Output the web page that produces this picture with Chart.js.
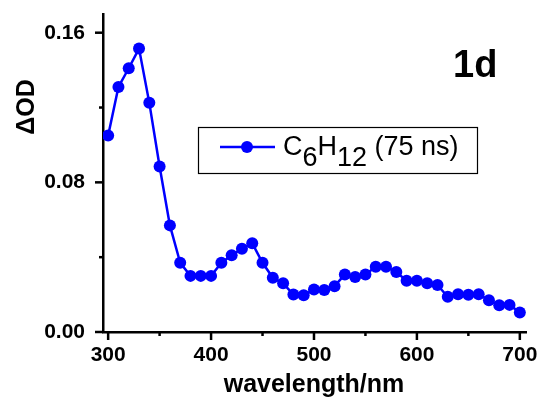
<!DOCTYPE html>
<html>
<head>
<meta charset="utf-8">
<script src="https://cdn.jsdelivr.net/npm/chart.js@4/dist/chart.umd.min.js"></script>
<style>
  html, body { margin: 0; padding: 0; background: #fff; }
  #wrap { width: 542px; height: 404px; position: relative; }
</style>
</head>
<body>
<div id="wrap"><canvas id="chart"></canvas></div>
<script>
// transient absorption spectrum, C6H12 at 75 ns
const WAVELENGTH = [300, 310, 320, 330, 340, 350, 360, 370, 380, 390,
                    400, 410, 420, 430, 440, 450, 460, 470, 480, 490,
                    500, 510, 520, 530, 540, 550, 560, 570, 580, 590,
                    600, 610, 620, 630, 640, 650, 660, 670, 680, 690, 700];
const DELTA_OD = [0.105, 0.131, 0.141, 0.1515, 0.1225, 0.0885, 0.057, 0.037, 0.030, 0.030,
                  0.030, 0.037, 0.041, 0.0445, 0.0475, 0.037, 0.029, 0.026, 0.020, 0.0197,
                  0.0227, 0.0224, 0.0245, 0.0308, 0.0294, 0.0308, 0.0349, 0.0349, 0.0321, 0.0274,
                  0.0274, 0.026, 0.0251, 0.0188, 0.0202, 0.0199, 0.0202, 0.017, 0.0143, 0.0145, 0.0104];
const X_TICKS = [300, 350, 400, 450, 500, 550, 600, 650, 700];
const X_LABELS = [300, 400, 500, 600, 700];
const Y_TICKS = [0, 0.04, 0.08, 0.12, 0.16];
const Y_LABELS = [0, 0.08, 0.16];

const FONT = "'Liberation Sans', Arial, sans-serif";
const BLUE = '#0000ff';

// axis tick marks (major long, minor short), drawn outward
const tickMarks = {
    id: 'tickMarks',
    afterDraw(chart) {
        const { ctx, scales: { x, y } } = chart;
        ctx.save();
        ctx.strokeStyle = '#000';
        ctx.lineWidth = 2.5;
        X_TICKS.forEach(v => {
            const px = x.getPixelForValue(v);
            const len = X_LABELS.includes(v) ? 8 : 4;
            ctx.beginPath(); ctx.moveTo(px, y.bottom); ctx.lineTo(px, y.bottom + len); ctx.stroke();
        });
        Y_TICKS.forEach(v => {
            const py = y.getPixelForValue(v);
            const len = Y_LABELS.includes(v) ? 8 : 4;
            ctx.beginPath(); ctx.moveTo(x.left, py); ctx.lineTo(x.left - len, py); ctx.stroke();
        });
        ctx.restore();
    }
};

// titles, panel tag and the framed legend with subscripts
const annotations = {
    id: 'annotations',
    afterDraw(chart) {
        const { ctx } = chart;
        ctx.save();
        ctx.fillStyle = '#000';
        ctx.textBaseline = 'alphabetic';

        ctx.font = `bold 25px ${FONT}`;
        ctx.textAlign = 'center';
        ctx.fillText('wavelength/nm', 314, 392);

        ctx.save();
        ctx.translate(34, 107);
        ctx.rotate(-Math.PI / 2);
        ctx.font = `bold 25px ${FONT}`;
        ctx.fillText('ΔOD', 0, 0);
        ctx.restore();

        ctx.font = `bold 38px ${FONT}`;
        ctx.textAlign = 'left';
        ctx.fillText('1d', 453, 77);

        // legend
        ctx.strokeStyle = '#000';
        ctx.lineWidth = 1.2;
        ctx.strokeRect(198.5, 127.5, 279, 46);
        ctx.strokeStyle = BLUE;
        ctx.lineWidth = 2.5;
        ctx.beginPath(); ctx.moveTo(220, 147); ctx.lineTo(275, 147); ctx.stroke();
        ctx.fillStyle = BLUE;
        ctx.beginPath(); ctx.arc(247, 147, 6, 0, Math.PI * 2); ctx.fill();

        ctx.fillStyle = '#000';
        ctx.font = `27px ${FONT}`;
        let cx = 283;
        const base = 155, sub = 166;
        [['C', base], ['6', sub], ['H', base], ['12', sub], [' (75 ns)', base]].forEach(([t, b]) => {
            ctx.fillText(t, cx, b);
            cx += ctx.measureText(t).width;
        });
        ctx.restore();
    }
};

new Chart(document.getElementById('chart'), {
    type: 'line',
    data: {
        labels: WAVELENGTH,
        datasets: [{
            label: 'C6H12 (75 ns)',
            data: WAVELENGTH.map((w, i) => ({ x: w, y: DELTA_OD[i] })),
            borderColor: BLUE, backgroundColor: BLUE,
            borderWidth: 2.5, pointRadius: 6, pointBorderWidth: 0,
            pointBackgroundColor: BLUE, tension: 0, fill: false
        }]
    },
    options: {
        responsive: true, maintainAspectRatio: false, animation: false,
        layout: { padding: { left: 0, top: 14, right: 16, bottom: 0 } },
        plugins: { legend: { display: false }, tooltip: { enabled: false } },
        scales: {
            x: {
                type: 'linear', min: 295, max: 706,
                afterBuildTicks: s => { s.ticks = X_TICKS.map(v => ({ value: v })); },
                afterFit: s => { s.height = 72; s.paddingLeft = 0; s.paddingRight = 0; },
                ticks: {
                    color: '#000', padding: 11, maxRotation: 0, autoSkip: false,
                    font: { family: FONT, size: 21, weight: 'bold' },
                    callback: v => X_LABELS.includes(v) ? String(v) : ''
                },
                grid: { display: false, drawTicks: false },
                border: { display: true, color: '#000', width: 2.5 }
            },
            y: {
                type: 'linear', min: 0, max: 0.17,
                afterBuildTicks: s => { s.ticks = Y_TICKS.map(v => ({ value: v })); },
                afterFit: s => { s.width = 103; s.paddingTop = 0; s.paddingBottom = 0; },
                ticks: {
                    color: '#000', padding: 18, autoSkip: false,
                    font: { family: FONT, size: 21, weight: 'bold' },
                    callback: v => Y_LABELS.includes(v) ? v.toFixed(2) : ''
                },
                grid: { display: false, drawTicks: false },
                border: { display: true, color: '#000', width: 2.5 }
            }
        }
    },
    plugins: [tickMarks, annotations]
});
</script>
</body>
</html>
